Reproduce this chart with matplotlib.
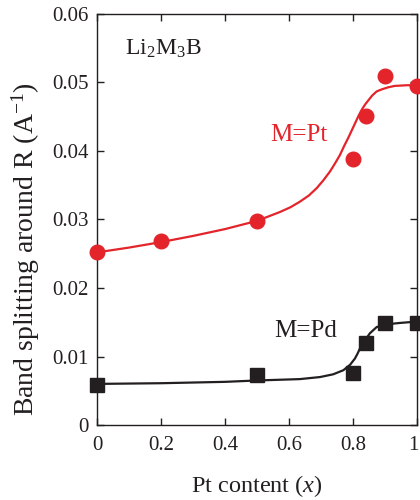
import matplotlib
matplotlib.use("Agg")
import matplotlib.pyplot as plt
import matplotlib.transforms as mtransforms

plt.rcParams['font.family'] = ['Liberation Serif', 'DejaVu Serif']
plt.rcParams['mathtext.fontset'] = 'custom'
plt.rcParams['mathtext.rm'] = 'Liberation Serif'
plt.rcParams['mathtext.it'] = 'Liberation Serif:italic'

# Data points
pt_x = [0.0, 0.2, 0.5, 0.8, 0.84, 0.9, 1.0]
pt_y = [0.0252, 0.0269, 0.0298, 0.0389, 0.0451, 0.0509, 0.0495]
pd_x = [0.0, 0.5, 0.8, 0.84, 0.9, 1.0]
pd_y = [0.0059, 0.0073, 0.0076, 0.0119, 0.0149, 0.0149]

# Fitted curves
pt_fit_x = [0.0, 0.1, 0.2, 0.3, 0.4, 0.5, 0.572, 0.605, 0.634, 0.662, 0.687, 0.707, 0.728,
            0.744, 0.759, 0.772, 0.785, 0.796, 0.806, 0.817, 0.827, 0.838, 0.848, 0.86,
            0.874, 0.89, 0.91, 0.93, 0.968, 1.0]
pt_fit_y = [0.0252, 0.0259, 0.0267, 0.0276, 0.0286, 0.0298, 0.0311, 0.0318, 0.0326, 0.0335,
            0.0346, 0.0357, 0.0370, 0.0382, 0.0394, 0.0407, 0.0419, 0.0430, 0.0440, 0.0451,
            0.0460, 0.0468, 0.0474, 0.0481, 0.0487, 0.0490, 0.0493, 0.0495, 0.0496, 0.0496]
pd_fit_x = [0.0, 0.2, 0.4, 0.5, 0.634, 0.697, 0.738, 0.77, 0.791, 0.806, 0.814, 0.822,
            0.83, 0.838, 0.853, 0.874, 0.905, 0.947, 1.0]
pd_fit_y = [0.0060, 0.0061, 0.0063, 0.0065, 0.0067, 0.0070, 0.0074, 0.0080, 0.0088,
            0.0097, 0.0104, 0.0112, 0.0118, 0.0124, 0.0134, 0.0143, 0.0147, 0.0149, 0.0151]

x_ticks = [0, 0.2, 0.4, 0.6, 0.8, 1.0]
x_ticklabels = ['0', '0.2', '0.4', '0.6', '0.8', '1']
y_ticks = [0, 0.01, 0.02, 0.03, 0.04, 0.05, 0.06]
y_ticklabels = ['0', '0.01', '0.02', '0.03', '0.04', '0.05', '0.06']

red = '#e3242b'
black = '#231f20'

W, H = 420, 500
fig = plt.figure(figsize=(W / 100, H / 100), dpi=100)
ax = fig.add_axes([97 / W, 1 - 425 / H, 320 / W, 411 / H])

ax.plot(pt_fit_x, pt_fit_y, color=red, lw=1.6, zorder=2, solid_joinstyle='round')
ax.plot(pd_fit_x, pd_fit_y, color=black, lw=1.6, zorder=2, solid_joinstyle='round')
ax.plot(pt_x, pt_y, 'o', color=red, ms=10.5, clip_on=False, zorder=3)
ax.plot(pd_x, pd_y, 's', color=black, ms=9.5, clip_on=False, zorder=3)

ax.set_xlim(0, 1)
ax.set_ylim(0, 0.06)
ax.set_xticks(x_ticks)
ax.set_xticklabels(x_ticklabels)
ax.set_yticks(y_ticks)
ax.set_yticklabels(y_ticklabels)
ax.tick_params(direction='in', length=5, width=1, top=True, right=True,
               labelsize=15, colors=black, pad=6)
ax.tick_params(axis='x', pad=8)
for s in ax.spines.values():
    s.set_linewidth(1.0)
    s.set_color(black)

# nudge the last x tick label so it stays inside the figure
last = ax.get_xticklabels()[-1]
last.set_transform(last.get_transform() +
                   mtransforms.ScaledTranslation(-2.5 / 72, 0, fig.dpi_scale_trans))

fig.text(257 / W, 1 - 486 / H, 'Pt content ($x$)', fontsize=17.5, color=black,
         ha='center', va='center')
fig.text(26 / W, 1 - 249 / H, 'Band splitting around R (A$^{-1}$)', fontsize=20,
         color=black, ha='center', va='center', rotation=90)

ax.text(0.0875, 0.0540, 'Li$_2$M$_3$B', fontsize=17, color=black, va='baseline', ha='left')
ax.text(0.541, 0.0414, 'M=Pt', fontsize=18, color=red, va='baseline', ha='left')
ax.text(0.553, 0.0129, 'M=Pd', fontsize=18, color=black, va='baseline', ha='left')

fig.savefig('out.png', dpi=100)
